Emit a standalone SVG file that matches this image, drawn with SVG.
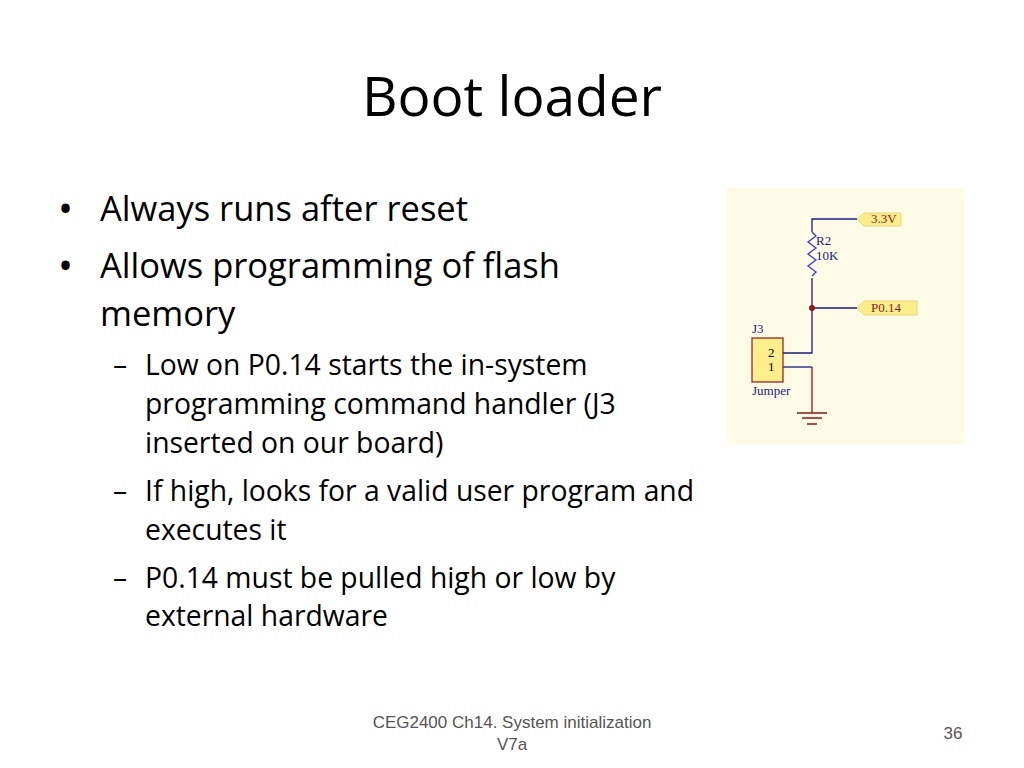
<svg xmlns="http://www.w3.org/2000/svg" width="1024" height="768" viewBox="0 0 1024 768">
<style>
.t{font-family:"Open Sans","Noto Sans",sans-serif;fill:#000}
.b{font-size:34.5px}
.s{font-size:28.3px}
.sch{font-family:"Liberation Serif",serif;font-size:13px}
.w{stroke:#1a1a80;stroke-width:1.3;fill:none}
.r{stroke:#8b1a1a;stroke-width:1.3;fill:none}
.tag{fill:#fcee8a;stroke:#e0cf70;stroke-width:0.8}
</style>
<rect width="1024" height="768" fill="#fff"/>
<text class="t" x="512" y="116" font-size="55" text-anchor="middle">Boot loader</text>
<g id="bullets">
<text class="t" font-size="40" x="58" y="223">•</text><text class="t b" x="100" y="221">Always runs after reset</text>
<text class="t" font-size="40" x="58" y="280">•</text><text class="t b" x="100" y="278">Allows programming of flash</text>
<text class="t b" x="100" y="326">memory</text>
<text class="t s" x="113" y="375">–</text><text class="t s" x="145" y="375">Low on P0.14 starts the in-system</text>
<text class="t s" x="145" y="414">programming command handler (J3</text>
<text class="t s" x="145" y="453">inserted on our board)</text>
<text class="t s" x="113" y="501">–</text><text class="t s" x="145" y="501">If high, looks for a valid user program and</text>
<text class="t s" x="145" y="540">executes it</text>
<text class="t s" x="113" y="588">–</text><text class="t s" x="145" y="588">P0.14 must be pulled high or low by</text>
<text class="t s" x="145" y="626">external hardware</text>
</g>
<g id="schematic">
<rect x="726" y="188" width="238" height="256" fill="#fdfbe6"/>
<path class="w" d="M857 219H812V232"/>
<path d="M812 232l4 4-8 6 8 6-8 6 8 6-8 6 8 6-4 4" stroke="#3a3ad0" stroke-width="1.3" fill="none"/>
<path class="w" d="M812 278V353H783M812 308H857"/>
<circle cx="812" cy="308" r="3" fill="#8b1a1a"/>
<path class="w" d="M783 367H812"/>
<path class="r" d="M812 367V413M797 413H827M802 418H822M807 424H817"/>
<polygon class="tag" points="857,219 864,213 901,213 901,226 864,226"/>
<text class="sch" x="871" y="223" fill="#8b1a1a">3.3V</text>
<polygon class="tag" points="857,308 864,301 917,301 917,315 864,315"/>
<text class="sch" x="871" y="312" fill="#8b1a1a">P0.14</text>
<text class="sch" x="816" y="245" fill="#1a1a80">R2</text>
<text class="sch" x="816" y="260" fill="#1a1a80">10K</text>
<rect x="752" y="338" width="31" height="44" fill="#fcee8a" stroke="#8b1a1a" stroke-width="1.2"/>
<text class="sch" x="752" y="333" fill="#1a1a80">J3</text>
<text class="sch" x="768" y="357" fill="#000">2</text>
<text class="sch" x="768" y="371" fill="#000">1</text>
<text class="sch" x="752" y="395" fill="#1a1a80">Jumper</text>
</g>
<g id="footer" font-family="'Liberation Sans',sans-serif" font-size="17" fill="#555">
<text x="512" y="728" text-anchor="middle">CEG2400 Ch14. System initialization</text>
<text x="512" y="750" text-anchor="middle">V7a</text>
<text x="953" y="739" text-anchor="middle">36</text>
</g>
</svg>
